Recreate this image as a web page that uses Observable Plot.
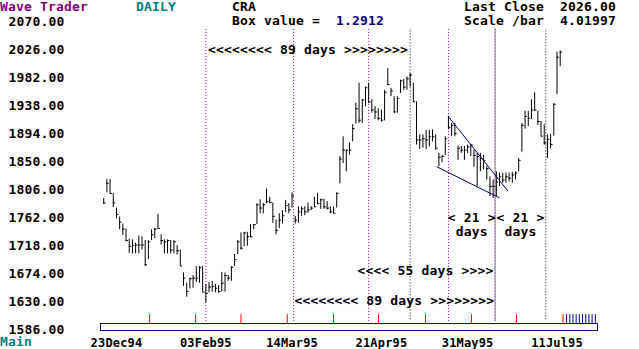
<!DOCTYPE html>
<html><head><meta charset="utf-8">
<script src="https://cdn.jsdelivr.net/npm/d3@7"></script>
<script src="https://cdn.jsdelivr.net/npm/@observablehq/plot@0.6"></script>
<style>
html,body{margin:0;padding:0;background:#fff;}
#wrap{position:relative;width:639px;height:349px;overflow:hidden;background:#fff;}
#wrap svg{position:absolute;left:0;top:0;}
.t{position:absolute;font:bold 13px "DejaVu Sans Mono",monospace;letter-spacing:0.17px;line-height:10px;white-space:pre;color:#000;}
</style></head><body>
<div id="wrap"></div>
<script>
// ---- data: daily bars (high / low / close), oldest first ----
const high = [1796,1826,1826,1804,1781,1767,1756,1748,1732,1731,1726,1737,1736,1730,1730,1747,1749,1771,1739,1731,1731,1730,1730,1722,1715,1679,1663,1671,1675,1689,1689,1689,1661,1664,1666,1661,1659,1680,1679,1675,1689,1708,1730,1742,1743,1743,1755,
1755,1788,1794,1788,1811,1798,1789,1762,1772,1777,1793,1788,1805,1768,1783,1783,1783,1789,1783,1798,1804,1795,1795,1791,1783,1783,1805,1862,1893,1872,1883,1912,1946,1977,1951,1971,1977,1951,1940,1937,1935,1966,2000,1969,1956,1956,1982,
1983,1987,1992,1977,1948,1896,1896,1903,1903,1904,1896,1867,1864,1893,1925,1914,1914,1878,1878,1878,1880,1881,1872,1867,1867,1864,1846,1830,1825,1838,1836,1836,1836,1836,1837,1838,1859,1914,
1933,1933,1951,1962,1933,1917,1912,1896,1897,1945,2026,2028];
const low = [1787,1805,1804,1782,1764,1747,1738,1728,1710,1709,1709,1709,1715,1689,1700,1730,1733,1749,1723,1709,1709,1709,1709,1707,1690,1658,1641,1654,1655,1664,1663,1649,1632,1648,1649,1648,1647,1649,1649,1666,1666,1689,1708,1715,1720,1721,1734,
1747,1755,1772,1772,1788,1788,1757,1739,1749,1756,1774,1772,1781,1756,1757,1768,1769,1773,1777,1783,1786,1779,1779,1778,1772,1772,1781,1819,1851,1838,1864,1885,1913,1914,1914,1940,1945,1930,1920,1918,1916,1918,1974,1956,1930,1930,1961,
1966,1966,1971,1948,1880,1873,1875,1873,1877,1885,1872,1846,1852,1864,1904,1893,1893,1856,1867,1856,1867,1862,1845,1815,1838,1841,1825,1799,1796,1799,1815,1820,1820,1822,1820,1825,1838,1869,
1905,1909,1920,1933,1911,1894,1880,1859,1874,1894,1959,2003];
const close = [1789,1820,1804,1789,1771,1759,1748,1730,1721,1722,1723,1723,1723,1692,1728,1739,1748,1749,1730,1728,1730,1715,1728,1714,1690,1671,1650,1670,1671,1671,1688,1649,1647,1657,1658,1655,1650,1663,1675,1671,1688,1700,1728,1718,1742,1736,1736,
1755,1786,1781,1786,1791,1790,1768,1746,1762,1769,1785,1778,1800,1762,1775,1780,1775,1778,1781,1783,1788,1794,1783,1781,1775,1773,1804,1858,1872,1872,1872,1906,1937,1919,1951,1970,1948,1935,1932,1922,1919,1963,1975,1965,1932,1953,1981,
1971,1984,1990,1948,1888,1888,1890,1888,1893,1893,1875,1861,1862,1890,1908,1911,1898,1875,1872,1872,1877,1880,1864,1862,1859,1856,1843,1815,1815,1822,1830,1825,1830,1828,1833,1836,1856,1911,
1925,1922,1935,1935,1917,1894,1883,1889,1881,1944,2018,2026];

// ---- axes ----
const yTicks = [1586,1630,1674,1718,1762,1806,1850,1894,1938,1982,2026,2070];
const xTickPos = [4,32,59,87,114,142];
const xTickLabels = ["23Dec94","03Feb95","14Mar95","21Apr95","31May95","11Jul95"];

// ---- time-cycle markers (bar positions) ----
const purpleLines = [32,59.5,83,108,122.6];
const blackLines = [96,122.6,138.5];
const lineExtent = [1603,2063];          // price span of the dotted lines
const spans = [
  {text:"<<<<<<<< 89 days >>>>>>>>", from:32,   to:96,    level:2029, anchor:"middle"},
  {text:"<<<< 55 days >>>>",         from:83,   to:122.6, level:1682, anchor:"end"},
  {text:"<<<<<<<< 89 days >>>>>>>>", from:59.5, to:122.6, level:1635, anchor:"middle"},
  {text:"< 21 >",                    from:108,  to:122.6, level:1766, anchor:"middle"},
  {text:"< 21 >",                    from:122.6,to:138.5, level:1766, anchor:"middle"},
  {text:"days",                      from:108,  to:122.6, level:1744, anchor:"middle"},
  {text:"days",                      from:122.6,to:138.5, level:1744, anchor:"middle"}
];
const trendLines = [
  {x1:107.9, y1:1925, x2:126.6, y2:1808},
  {x1:104.3, y1:1846, x2:124.0, y2:1797}
];
const cycleTicks = [14.4,28.8,43.0,57.5,72.0,86.1,100.8,115.2,129.3,143.9];
const futureTicks = [145,146,147,148,149,150,151,152,153,154];
const rulerBox = {x1:-0.85, x2:154.85, y1:1587.8, y2:1598.8};
const tickTop = 1613.6;

const boxValue = "1.2912";
const scalePerBar = "4.01997";

const bars = high.map((h, i) => ({i, h, l: low[i], c: close[i]}));
const labelFor = new Map(xTickPos.map((p, k) => [p, xTickLabels[k]]));
const centered = spans.filter(d => d.anchor === "middle");
const ended = spans.filter(d => d.anchor === "end");

const chart = Plot.plot({
  width: 639, height: 349,
  marginLeft: 100, marginRight: 41, marginTop: 23.6, marginBottom: 17.3,
  x: {domain: [-1, 155], label: null},
  y: {domain: [1586, 2070], label: null},
  style: {fontFamily: '"DejaVu Sans Mono", monospace', fontSize: "13px", fontWeight: "bold", letterSpacing: "0.17px", background: "white", color: "black"},
  marks: [
    Plot.ruleX(purpleLines, {x: d => d, y1: () => lineExtent[0], y2: () => lineExtent[1], stroke: "#800080", strokeDasharray: "1,2"}),
    Plot.ruleX(blackLines, {x: d => d, y1: () => lineExtent[0], y2: () => lineExtent[1], stroke: "#000", strokeDasharray: "1,2", strokeDashoffset: 1.5}),
    Plot.rect([rulerBox], {x1: "x1", x2: "x2", y1: "y1", y2: "y2", fill: "white", stroke: "#000080"}),
    Plot.ruleX(cycleTicks, {x: d => d, y1: () => rulerBox.y2, y2: () => tickTop, stroke: "#ff0000"}),
    Plot.ruleX(futureTicks, {x: d => d, y1: () => rulerBox.y2, y2: () => tickTop, stroke: "#000080"}),
    Plot.ruleX(bars, {x: "i", y1: "l", y2: "h", stroke: "#000"}),
    Plot.ruleY(bars, {y: "c", x1: "i", x2: d => d.i + 0.75, stroke: "#000"}),
    Plot.link(trendLines, {x1: "x1", y1: "y1", x2: "x2", y2: "y2", stroke: "#000080"}),
    Plot.text(centered, {x: d => (d.from + d.to) / 2, y: "level", text: "text", fill: "#000"}),
    Plot.text(ended, {x: "to", y: "level", text: "text", fill: "#000", textAnchor: "end", dx: -1.5}),
    Plot.axisY({ticks: yTicks, tickFormat: d3.format(".2f"), tickSize: 0, tickPadding: 36, dy: -2, label: null}),
    Plot.axisX({ticks: xTickPos, tickFormat: d => labelFor.get(d), tickSize: 0, tickPadding: 5.8, label: null, fontSize: 12, style: "letter-spacing:0.78px"})
  ]
});

const wrap = document.getElementById("wrap");
wrap.appendChild(chart);

function put(text, col, top, color) {
  const s = document.createElement("span");
  s.className = "t";
  s.textContent = text;
  s.style.left = (col * 8) + "px";
  s.style.top = top + "px";
  if (color) s.style.color = color;
  wrap.appendChild(s);
}
put("Wave Trader", 0, 2, "#800080");
put("DAILY", 17, 2, "#008080");
put("CRA", 29, 2);
put("Last Close  " + close[close.length - 1].toFixed(2), 58, 2);
put("Box value = ", 29, 16);
put(boxValue, 42, 16, "#000080");
put("Scale /bar  " + scalePerBar, 58, 16);
put("Main", 0, 337, "#008080");
</script>
</body></html>
